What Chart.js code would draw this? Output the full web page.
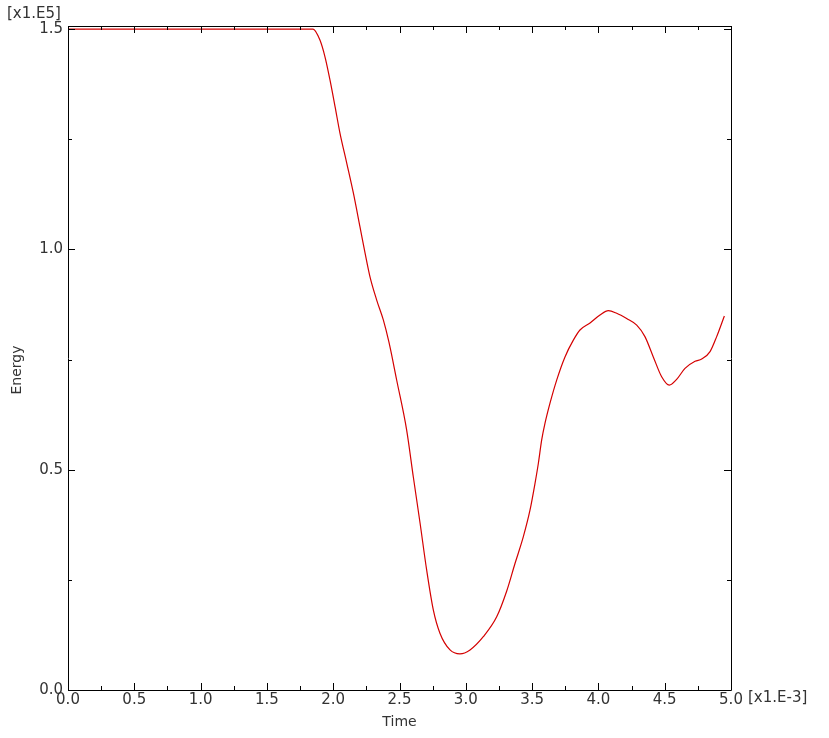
<!DOCTYPE html>
<html>
<head>
<meta charset="utf-8">
<script src="https://cdn.jsdelivr.net/npm/chart.js@4.4.1/dist/chart.umd.min.js"></script>
<style>
  html, body { margin: 0; padding: 0; background: #fff; }
  #wrap { width: 829px; height: 738px; }
</style>
</head>
<body>
<div id="wrap"><canvas id="energyChart" width="829" height="738"></canvas></div>
<script>
// time in [x1.E-3], energy in [x1.E5]
const times = [0.0, 1.0, 1.848, 1.900, 1.938, 1.976, 2.014, 2.051, 2.102, 2.152, 2.202, 2.240, 2.278, 2.328, 2.378,
    2.420, 2.479, 2.554, 2.604, 2.655, 2.705, 2.755, 2.805, 2.881, 2.956, 3.032, 3.132, 3.233, 3.308, 3.371,
    3.434, 3.484, 3.522, 3.547, 3.572, 3.597, 3.635, 3.686, 3.748, 3.811, 3.861, 3.937, 4.012, 4.075, 4.138,
    4.213, 4.289, 4.351, 4.414, 4.477, 4.535, 4.590, 4.653, 4.729, 4.779, 4.842, 4.892, 4.950];
const energy = [1.5, 1.5, 1.5, 1.475, 1.437, 1.384, 1.324, 1.264, 1.196, 1.128, 1.051, 0.992, 0.937, 0.885, 0.840,
    0.790, 0.703, 0.590, 0.484, 0.379, 0.272, 0.182, 0.129, 0.091, 0.082, 0.091, 0.121, 0.166, 0.224, 0.287,
    0.348, 0.408, 0.469, 0.514, 0.567, 0.605, 0.651, 0.704, 0.756, 0.794, 0.817, 0.833, 0.851, 0.861, 0.855,
    0.843, 0.828, 0.802, 0.756, 0.711, 0.692, 0.705, 0.730, 0.746, 0.751, 0.768, 0.802, 0.849];

const xTicks = [0.0, 0.5, 1.0, 1.5, 2.0, 2.5, 3.0, 3.5, 4.0, 4.5, 5.0];
const yTicks = [0.0, 0.5, 1.0, 1.5];
const xMinor = [0.25, 0.75, 1.25, 1.75, 2.25, 2.75, 3.25, 3.75, 4.25, 4.75];
const yMinor = [0.25, 0.75, 1.25];

const FONT = 'DejaVu Sans, Verdana, sans-serif';
const TEXT = '#333';

// frame, inward ticks and the extra labels
const framePlugin = {
    id: 'frame',
    afterDatasetsDraw(chart) {
        const { ctx, chartArea: a, scales: { x, y } } = chart;
        ctx.save();
        ctx.strokeStyle = '#000';
        ctx.lineWidth = 1;
        ctx.beginPath();
        ctx.rect(a.left + 0.5, a.top + 0.5, a.right - a.left, a.bottom - a.top);
        ctx.stroke();

        ctx.beginPath();
        const tickX = (v, len) => {
            const px = Math.round(x.getPixelForValue(v)) + 0.5;
            ctx.moveTo(px, a.bottom); ctx.lineTo(px, a.bottom - len);
            ctx.moveTo(px, a.top); ctx.lineTo(px, a.top + len);
        };
        const tickY = (v, len) => {
            const py = Math.round(y.getPixelForValue(v)) + 0.5;
            ctx.moveTo(a.left, py); ctx.lineTo(a.left + len, py);
            ctx.moveTo(a.right, py); ctx.lineTo(a.right - len, py);
        };
        xTicks.forEach(v => tickX(v, 7));
        xMinor.forEach(v => tickX(v, 4));
        yTicks.forEach(v => tickY(v, 7));
        yMinor.forEach(v => tickY(v, 4));
        ctx.stroke();

        ctx.fillStyle = TEXT;
        ctx.font = '15px ' + FONT;
        ctx.textBaseline = 'middle';
        ctx.textAlign = 'left';
        ctx.fillText('[x1.E5]', 7, 14);
        ctx.fillText('[x1.E-3]', 748, 698);
        ctx.font = '14px ' + FONT;
        ctx.textAlign = 'center';
        ctx.fillText('Time', (a.left + a.right) / 2, 722);
        ctx.translate(17, (a.top + a.bottom) / 2 + 12);
        ctx.rotate(-Math.PI / 2);
        ctx.fillText('Energy', 0, 0);
        ctx.restore();
    }
};

new Chart(document.getElementById('energyChart').getContext('2d'), {
    type: 'line',
    data: {
        datasets: [{
            label: 'Energy',
            data: times.map((t, i) => ({ x: t, y: energy[i] })),
            borderColor: '#d40000',
            borderWidth: 1.2,
            pointRadius: 0,
            fill: false,
            cubicInterpolationMode: 'monotone',
        }],
    },
    options: {
        responsive: false,
        animation: false,
        layout: { padding: { left: 0, top: 26, right: 98, bottom: 0 } },
        plugins: { legend: { display: false }, tooltip: { enabled: false } },
        scales: {
            x: {
                type: 'linear', min: 0, max: 5.0,
                afterBuildTicks: s => { s.ticks = xTicks.map(v => ({ value: v })); },
                afterFit: s => { s.height = 48; },
                grid: { display: false, drawTicks: false },
                border: { display: false },
                ticks: { padding: 1, color: TEXT, font: { family: FONT, size: 15 }, maxRotation: 0, autoSkip: false,
                    callback: v => v.toFixed(1) },
            },
            y: {
                type: 'linear', min: 0, max: 1.507,
                afterBuildTicks: s => { s.ticks = yTicks.map(v => ({ value: v })); },
                afterFit: s => { s.width = 68; },
                grid: { display: false, drawTicks: false },
                border: { display: false },
                ticks: { padding: 5, color: TEXT, font: { family: FONT, size: 15 }, autoSkip: false,
                    callback: v => v.toFixed(1) },
            },
        },
    },
    plugins: [framePlugin],
});
</script>
</body>
</html>
